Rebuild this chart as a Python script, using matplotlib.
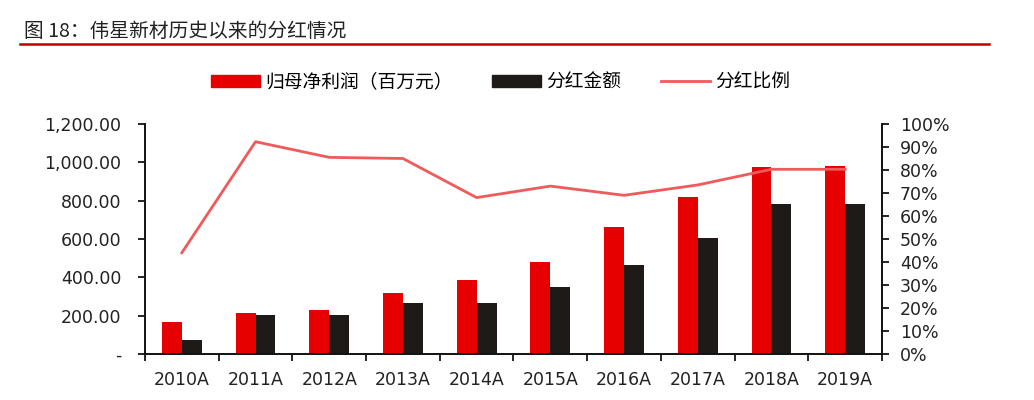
import matplotlib.pyplot as plt
import numpy as np
from matplotlib.lines import Line2D
from matplotlib.patches import Patch

plt.rcParams['font.family'] = ['Noto Sans CJK SC', 'DejaVu Sans']

# data
years = ['2010A', '2011A', '2012A', '2013A', '2014A', '2015A', '2016A', '2017A', '2018A', '2019A']
net_profit = [168, 212, 230, 316, 386, 478, 662, 817, 974, 982]
dividend = [73, 201, 201, 265, 265, 350, 463, 603, 784, 784]
payout = [0.44, 0.923, 0.855, 0.85, 0.68, 0.73, 0.69, 0.735, 0.803, 0.803]

red = '#E60000'
black = '#1E1A17'
line_red = '#F05A5A'
txt = '#222222'

fig = plt.figure(figsize=(10.34, 4), dpi=100)
ax = fig.add_axes([0.1402, 0.115, 0.853 - 0.1402, 0.575])
ax2 = ax.twinx()

x = np.arange(len(years))
w = 0.27
ax.bar(x - w / 2, net_profit, w, color=red, zorder=2)
ax.bar(x + w / 2, dividend, w, color=black, zorder=2)
ax2.plot(x, payout, color=line_red, lw=2)

ax.set_xlim(-0.5, len(years) - 0.5)
ax.set_ylim(0, 1200)
ax2.set_ylim(0, 1)

# y axis labels
yt = np.arange(0, 1201, 200)
ax.set_yticks(yt)
ax.set_yticklabels(['-'] + [f'{v:,.2f}' for v in yt[1:]], fontsize=12.5, color=txt,
                   family='DejaVu Sans')
pt = np.arange(0, 1.01, 0.1)
ax2.set_yticks(pt)
ax2.set_yticklabels([f'{int(round(v * 100))}%' for v in pt],
                    fontsize=12.5, color=txt, family='DejaVu Sans')

# x ticks at category boundaries, labels at centers
ax.set_xticks(np.arange(-0.5, len(years), 1))
ax.set_xticklabels([])
ax.set_xticks(x, minor=True)
ax.set_xticklabels(years, minor=True, fontsize=12.5, color=txt, family='DejaVu Sans')
ax.tick_params(axis='x', which='minor', length=0, pad=12)
ax.tick_params(axis='x', which='major', length=5, width=1.2, direction='out')
ax.tick_params(axis='y', length=5, width=1.2, direction='out', pad=12)
ax2.tick_params(axis='y', length=5, width=1.2, direction='out', pad=8)

for a in (ax, ax2):
    a.spines['top'].set_visible(False)
    for s in ('left', 'right', 'bottom'):
        a.spines[s].set_color('#111111')
        a.spines[s].set_linewidth(1.2)

# legend
handles = [Patch(color=red), Patch(color=black), Line2D([0], [0], color=line_red, lw=2)]
labels = ['归母净利润（百万元）', '分红金额', '分红比例']
fig.legend(handles, labels, loc='center', bbox_to_anchor=(0.484, 0.795), ncol=3, frameon=False,
           fontsize=13.5, handlelength=2.6, handleheight=0.55, columnspacing=2.1, handletextpad=0.3)

# title and red rule
fig.text(0.023, 0.921, '图 18：伟星新材历史以来的分红情况', fontsize=14.2, color=txt, va='center')
fig.add_artist(Line2D([0.019, 0.956], [0.889, 0.889], color='#C00000', lw=1.8))

fig.savefig('out.png', dpi=100)
